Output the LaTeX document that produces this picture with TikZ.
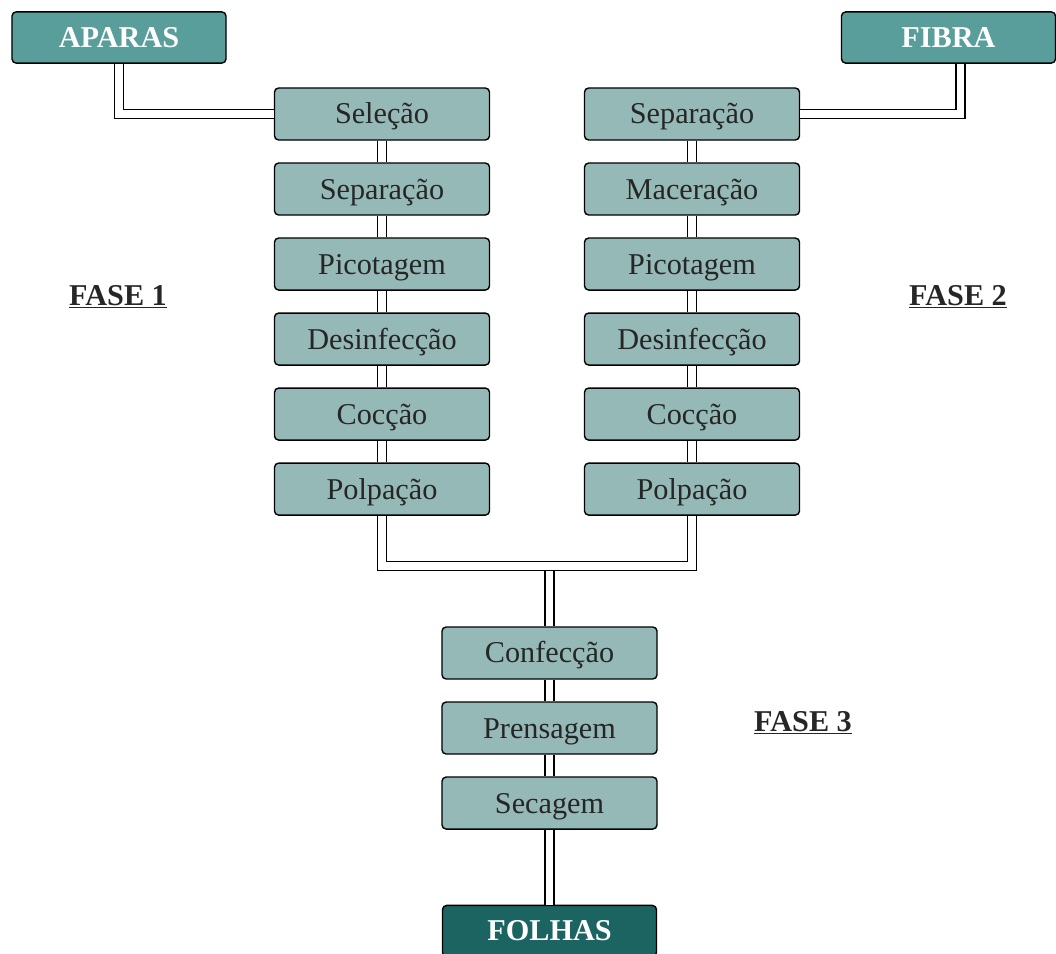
\documentclass[tikz,border=0pt]{standalone}
\usepackage{fontspec}
\setmainfont{Liberation Serif}
\usepackage{xcolor}
\definecolor{cinza}{RGB}{149,185,183}
\definecolor{verde}{RGB}{90,158,156}
\definecolor{escuro}{RGB}{28,100,98}
\usetikzlibrary{calc,positioning}
\tikzset{
  etapa/.style={rectangle, draw=black, line width=1pt, fill=cinza, text width=5.1cm, text centered, rounded corners=3pt, minimum width=5.375cm, minimum height=1.3cm, text height=14.2pt, text depth=0pt, font=\fontsize{21.5}{24}\selectfont, text=black!85},
  fonte/.style={rectangle, draw=black, line width=1pt, fill=verde, text centered, rounded corners=3pt, minimum width=5.35cm, minimum height=1.28cm, text height=14.2pt, text depth=0pt, font=\fontsize{21.5}{24}\selectfont\bfseries, text=white},
  produto/.style={fonte, fill=escuro},
  fase/.style={font=\fontsize{21.5}{24}\selectfont\bfseries, text=black!85},
  tubo/.style={draw=black, line width=1.1pt, double=white, double distance=5.2pt},
}
\begin{document}
\begin{tikzpicture}[x=0.025cm, y=-0.025cm, node distance=1.875cm, on grid]
   \useasboundingbox (0,0) rectangle (1056,953);
   % entradas
   \node[fonte] (ap) at (119,37.5) {APARAS};
   \node[fonte] (fb) at (948.5,37.5) {FIBRA};
   % fase 1
   \node[etapa] (e1) at (382,114) {Seleção};
   \node[etapa] (e2) [below=of e1] {Separação};
   \node[etapa] (e3) [below=of e2] {Picotagem};
   \node[etapa] (e4) [below=of e3] {Desinfecção};
   \node[etapa] (e5) [below=of e4] {Cocção};
   \node[etapa] (e6) [below=of e5] {Polpação};
   % fase 2
   \node[etapa] (d1) at (692,114) {Separação};
   \node[etapa] (d2) [below=of d1] {Maceração};
   \node[etapa] (d3) [below=of d2] {Picotagem};
   \node[etapa] (d4) [below=of d3] {Desinfecção};
   \node[etapa] (d5) [below=of d4] {Cocção};
   \node[etapa] (d6) [below=of d5] {Polpação};
   % fase 3
   \node[etapa] (c1) at (549.5,653) {Confecção};
   \node[etapa] (c2) [below=of c1] {Prensagem};
   \node[etapa] (c3) [below=of c2] {Secagem};
   \node[produto] (fo) at (549.5,931) {FOLHAS};
   % rotulos
   \node[fase] (f1) at (118,297) {\underline{FASE 1}};
   \node[fase] (f2) at (958,297) {\underline{FASE 2}};
   \node[fase] (f3) at (803,723) {\underline{FASE 3}};
   \coordinate (kf) at ([xshift=0.3cm]fb.south);
   \coordinate (km) at (549.5,566);

   \draw[tubo] (ap.south) |- (e1.west);
   \draw[tubo] (kf) |- (d1.east);
   \foreach \a/\b in {e1/e2,e2/e3,e3/e4,e4/e5,e5/e6,d1/d2,d2/d3,d3/d4,d4/d5,d5/d6,c1/c2,c2/c3,c3/fo}
     \draw[tubo] (\a.south) -- (\b.north);
   \draw[tubo] (km) -- (c1.north);
   \draw[tubo] (e6.south) |- (km) -| (d6.south);
\end{tikzpicture}
\end{document}
